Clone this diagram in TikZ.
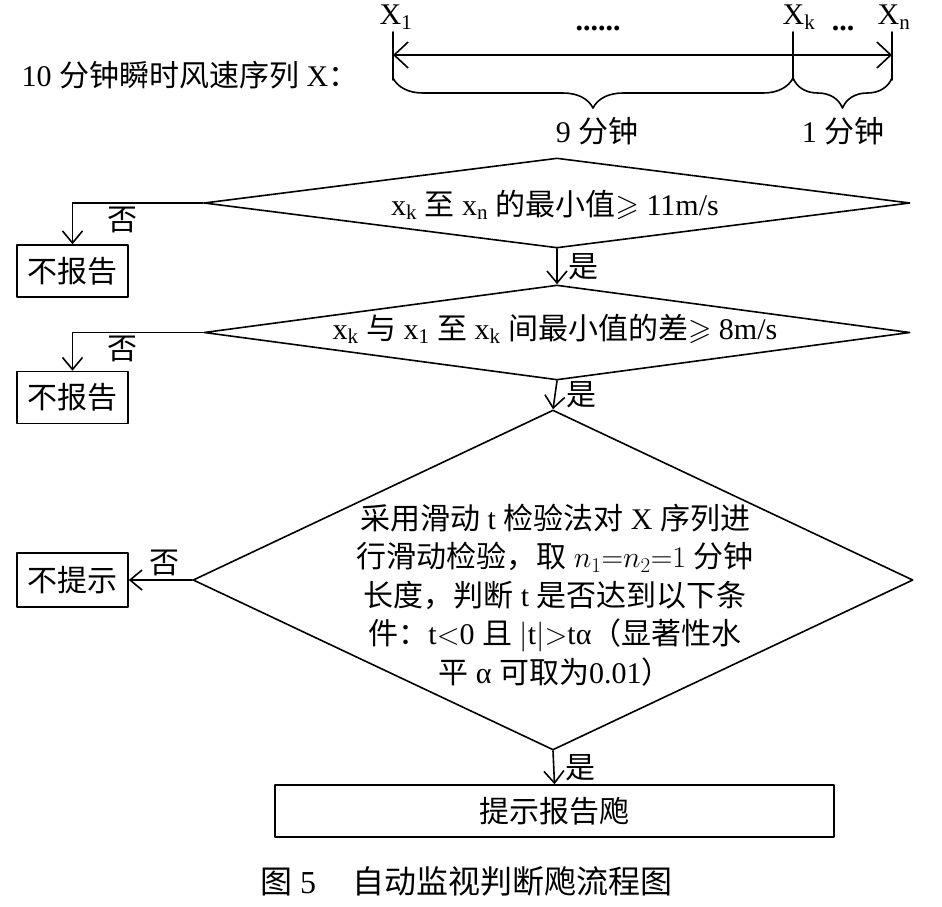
\RequirePackage{fix-cm}
\documentclass[tikz,border=0pt]{standalone}
\usepackage{amssymb}
\usepackage{fontspec}
\setmainfont{Liberation Serif}
\newfontfamily\cjk{Noto Sans CJK SC}
\newcommand{\zh}[1]{{\cjk #1}}
\usetikzlibrary{arrows.meta}
\usetikzlibrary{shapes.geometric}
\usetikzlibrary{decorations.pathreplacing,calc}
\usetikzlibrary{positioning}

\begin{document}
\begin{tikzpicture}[line cap=round,line join=round,x=1pt,y=1pt,
  >={Straight Barb[length=12pt,width=20pt]},
  every node/.style={font=\fontsize{30}{38.5}\selectfont},
  flow/.style={line width=1.6pt},
  lbl/.style={inner sep=3pt},
  decision/.style={diamond,draw,line width=1.6pt,inner sep=0pt},
  stopbox/.style={draw,line width=1.6pt,minimum width=111pt,minimum height=52pt,inner sep=0pt}]
\useasboundingbox (0,0) rectangle (942,-906);
% time axis of the 10 min series
\node (seq) [anchor=west] at (18,-75) {10 \zh{分钟瞬时风速序列} X\zh{：}};
\node (xa) at (396,-17) {X\textsubscript{1}};
\node (xb) at (799,-17) {X\textsubscript{k}};
\node (xc) at (894,-17) {X\textsubscript{n}};
\foreach \x in {393,793,892}
\draw[flow] (\x,-32) -- (\x,-80);
\coordinate (ta) at (393,-55);
\coordinate (tc) at (892,-55);
\draw[flow,<->,>={Straight Barb[length=14pt,width=26pt]}] (ta) -- (tc);
\node (dotsa) at (598,-28) {\textbf{......}};
\node (dotsb) at (843,-28) {\textbf{...}};
\draw[flow,decorate,decoration={brace,mirror,amplitude=30pt}] (393,-78) -- (793,-78);
\draw[flow,decorate,decoration={brace,mirror,amplitude=30pt}] (793,-78) -- (892,-78);
\node (nine) at (597,-131) {9 \zh{分钟}};
\node (one) at (843,-131) {1 \zh{分钟}};
% decisions
\node[decision,minimum width=706pt,minimum height=90pt] (d1) at (557,-203) {};
\node (t1) at (555,-205) {x\textsubscript{k} \zh{至} x\textsubscript{n} \zh{的最小值}$\geqslant$ 11m/s};
\node[decision,minimum width=706pt,minimum height=95pt] (d2) at (557,-332.5) {};
\node (t2) at (555,-329) {x\textsubscript{k} \zh{与} x\textsubscript{1} \zh{至} x\textsubscript{k} \zh{间最小值的差}$\geqslant$ 8m/s};
\node[decision,minimum width=720pt,minimum height=340pt] (d3) at (553,-580) {};
\node[align=center] (t3) at (555,-595) {\zh{采用滑动} t \zh{检验法对} X \zh{序列进}\\
  \zh{行滑动检验，取} $n_1{=}n_2{=}1$ \zh{分钟}\\
  \zh{长度，判断} t \zh{是否达到以下条}\\
  \zh{件：}t$<$0 \zh{且} $|$t$|$$>$tα\zh{（显著性水}\\
  \zh{平} α \zh{可取为}0.01\zh{）}};
% outcomes
\node[stopbox] (nr1) at (72.5,-271) {\zh{不报告}};
\node[stopbox] (nr2) at (72.5,-397.5) {\zh{不报告}};
\node[stopbox,minimum height=54pt] (np) at (72.5,-580) {\zh{不提示}};
\node[draw,line width=1.6pt,minimum width=559pt,minimum height=52pt] (alarm) at (554.5,-811) {\zh{提示报告飑}};
% connectors
\draw[flow,->] (d1.west) -| (nr1.north) node[lbl,pos=0.31,below] {\zh{否}};
\draw[flow,->] (d2.west) -| (nr2.north) node[lbl,pos=0.31,below] {\zh{否}};
\draw[flow,->] (d3.west) -- (np.east) node[lbl,midway,above,xshift=4pt] {\zh{否}};
\draw[flow,->] (d1.south) -- (d2.north) node[lbl,midway,right,xshift=8pt] {\zh{是}};
\draw[flow,->] (d2.south) -- (d3.north) node[lbl,midway,right,xshift=8pt] {\zh{是}};
\draw[flow,->] (d3.south) -- (alarm.north) node[lbl,midway,right,xshift=8pt] {\zh{是}};
\node (cap) at (466,-881) {\fontsize{32}{38}\selectfont\zh{图} 5\hspace{36pt}\zh{自动监视判断飑流程图}};
\end{tikzpicture}
\end{document}
